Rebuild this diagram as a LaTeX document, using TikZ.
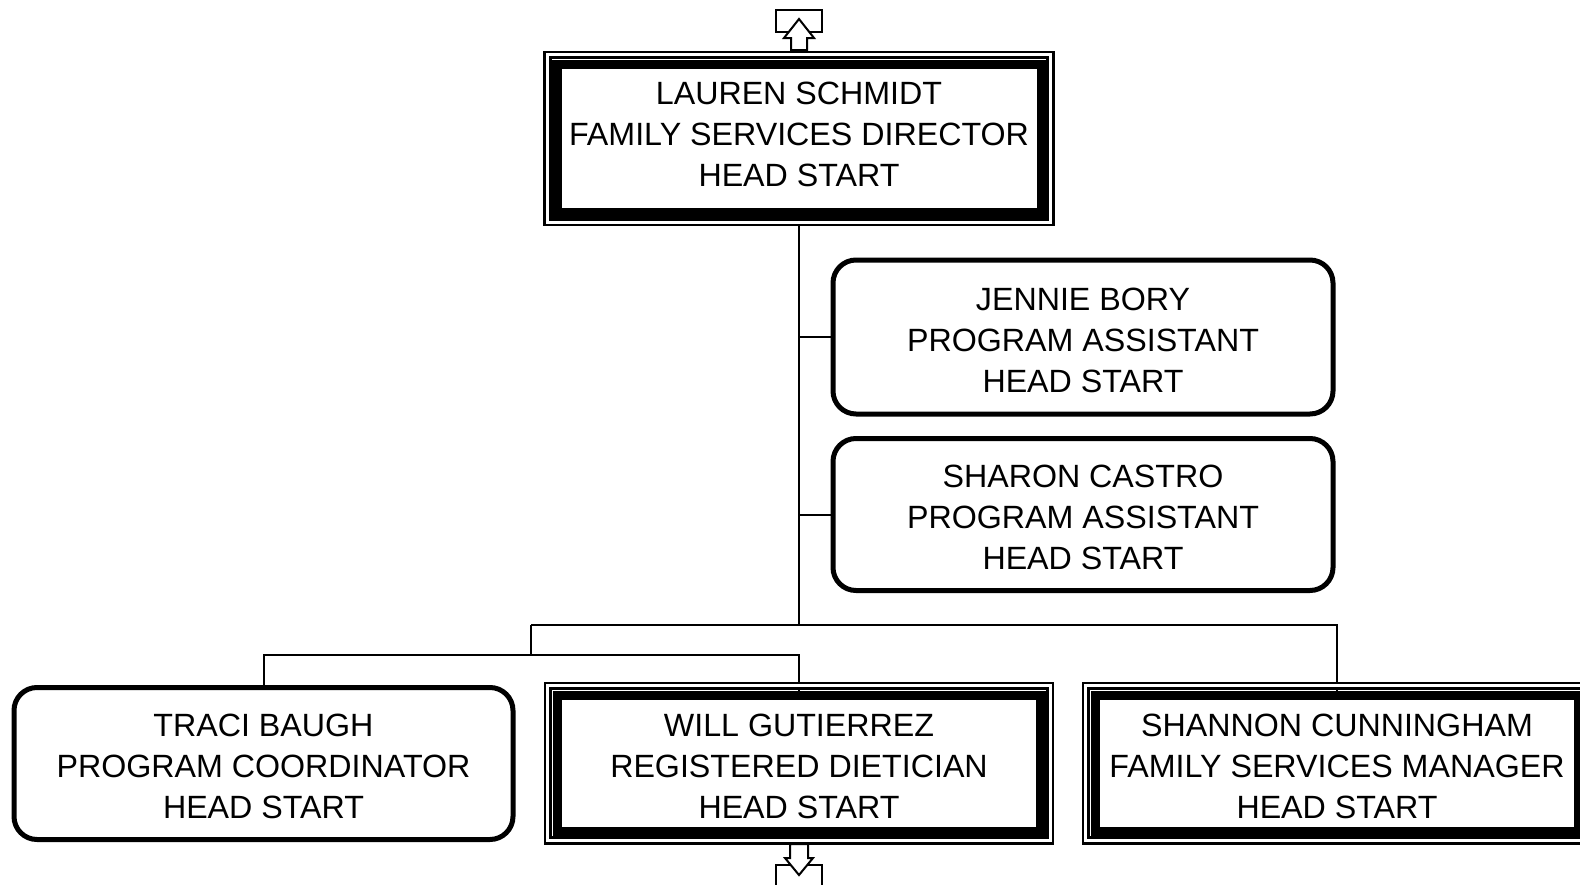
\documentclass[tikz,border=0pt]{standalone}
\usepackage{fontspec}
\setmainfont{Liberation Sans}
\usetikzlibrary{positioning}

\begin{document}
\begin{tikzpicture}[x=0.5pt,y=-0.5pt,every node/.style={font=\fontsize{16.1}{20.5}\selectfont,align=center,inner sep=0pt,text height=55pt,text depth=0pt},
 rbox/.style={draw,line width=2.5pt,rounded corners=11.5pt,minimum width=250pt,minimum height=76pt},
 tbox/.style={draw,line width=4.75pt,minimum width=241.75pt,minimum height=68pt},
 conn/.style={line width=1pt}]
\useasboundingbox (0,0) rectangle (1580,884);
\node[tbox,minimum width=242.25pt,minimum height=74.25pt,text depth=7pt] (lauren) at (799,138.5) {LAUREN SCHMIDT\\FAMILY SERVICES DIRECTOR\\HEAD START};
\node[rbox,minimum height=77pt] (jennie) at (1083,337) {JENNIE BORY\\PROGRAM ASSISTANT\\HEAD START};
\node[rbox] (sharon) at (1083,514.5) {SHARON CASTRO\\PROGRAM ASSISTANT\\HEAD START};
\node[rbox,minimum width=249.5pt] (traci) at (263.5,763.5) {TRACI BAUGH\\PROGRAM COORDINATOR\\HEAD START};
\node[tbox] (will) at (799,763.25) {WILL GUTIERREZ\\REGISTERED DIETICIAN\\HEAD START};
\node[tbox] (shannon) at (1337,763.25) {SHANNON CUNNINGHAM\\FAMILY SERVICES MANAGER\\HEAD START};
\coordinate (hub) at (799,625);
\coordinate (lsplit) at (531,625);
\coordinate (lbar) at (531,655);
\draw[conn] (lauren.south) -- (hub);
\draw[conn] (hub |- jennie.west) -- (jennie.west);
\draw[conn] (hub |- sharon.west) -- (sharon.west);
\draw[conn] (lsplit) -| (shannon.north);
\draw[conn] (lsplit) -- (lbar);
\draw[conn] (traci.north) |- (lbar) -| (will.north);
\foreach \n in {lauren,will,shannon}
  \draw[line width=1.35pt,double distance=1.5pt] ([shift={(-4.6,-4.6)}]\n.north west) rectangle ([shift={(4.6,4.6)}]\n.south east);
\begin{scope}[shift={(799,51)},line width=1pt]
\draw (-23,-41) rectangle (23,-19);
\draw[fill=white] (-8,-1) -- (-8,-13) -- (-15,-13) -- (0,-32) -- (15,-13) -- (8,-13) -- (8,-1) -- cycle;
\end{scope}
\begin{scope}[shift={(799,845)},line width=1pt]
\draw (-23,20) rectangle (23,45);
\draw[fill=white] (-9,-1) -- (-9,13) -- (-14,13) -- (0,30) -- (14,13) -- (9,13) -- (9,-1) -- cycle;
\end{scope}
\end{tikzpicture}
\end{document}
